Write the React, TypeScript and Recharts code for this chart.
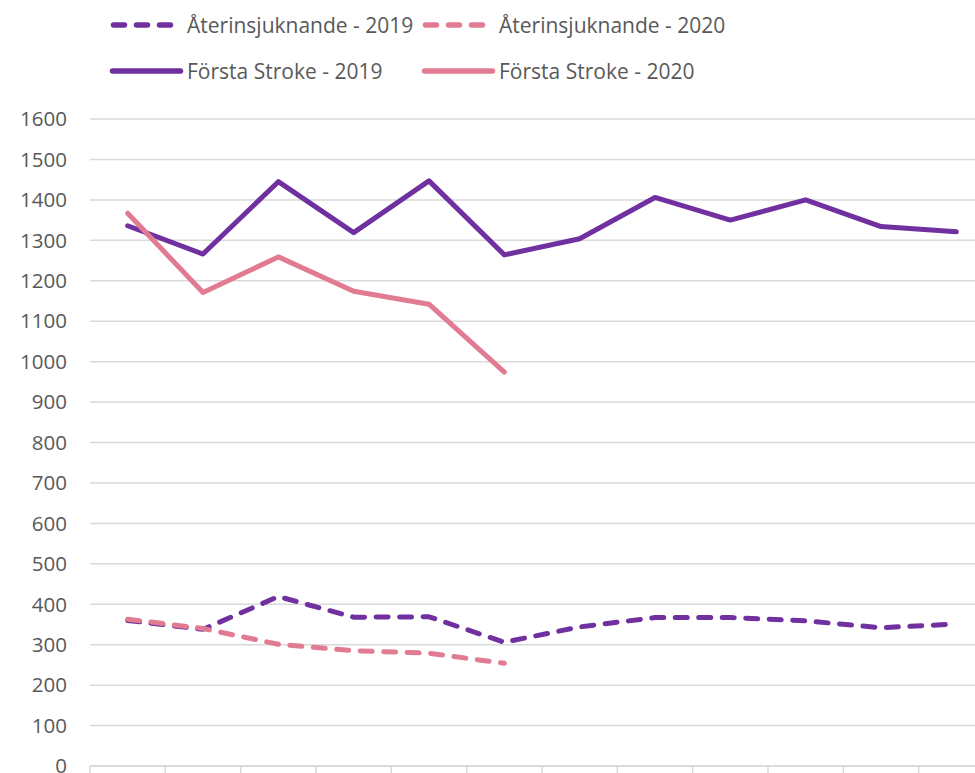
import React from 'react';
import { LineChart, Line, XAxis, YAxis, CartesianGrid, Legend } from 'recharts';

const months = ['Jan', 'Feb', 'Mar', 'Apr', 'Maj', 'Jun', 'Jul', 'Aug', 'Sep', 'Okt', 'Nov', 'Dec'];
const recurrent2019 = [360, 338, 419, 368, 369, 306, 344, 367, 367, 359, 342, 351];
const recurrent2020 = [363, 340, 301, 285, 279, 254];
const firstStroke2019 = [1336, 1266, 1445, 1319, 1447, 1264, 1304, 1406, 1350, 1400, 1334, 1321];
const firstStroke2020 = [1367, 1171, 1259, 1174, 1142, 974];
const yTicks = [0, 100, 200, 300, 400, 500, 600, 700, 800, 900, 1000, 1100, 1200, 1300, 1400, 1500, 1600];
const xBoundaries = [0, 1, 2, 3, 4, 5, 6, 7, 8, 9, 10, 11, 12];

const PURPLE = '#7030A0';
const PINK = '#E07B91';
const TEXT = '#595959';
const GRID = '#D9D9D9';
const FONT = '"Open Sans", "Liberation Sans", sans-serif';

const data = months.map((m, i) => ({
  x: i + 0.5,
  month: m,
  r19: recurrent2019[i] ?? null,
  r20: recurrent2020[i] ?? null,
  f19: firstStroke2019[i] ?? null,
  f20: firstStroke2020[i] ?? null,
}));

const series = [
  { key: 'r19', name: 'Återinsjuknande - 2019', color: PURPLE, dashed: true },
  { key: 'r20', name: 'Återinsjuknande - 2020', color: PINK, dashed: true },
  { key: 'f19', name: 'Första Stroke - 2019', color: PURPLE, dashed: false },
  { key: 'f20', name: 'Första Stroke - 2020', color: PINK, dashed: false },
];

const DASH = '12 11.5';
const LEGEND_DASH = '11 12';

const LegendContent = () => (
  <svg width={975} height={100} style={{ display: 'block' }}>
    {series.map((s, i) => {
      const col = i % 2;
      const row = Math.floor(i / 2);
      const x0 = 110 + col * 312;
      const y = 25 + row * 46;
      return (
        <g key={s.key}>
          {s.dashed ? (
            <line x1={x0 + 3.5} x2={x0 + 62} y1={y} y2={y} stroke={s.color} strokeWidth={5.5}
              strokeLinecap="round" strokeDasharray={LEGEND_DASH} />
          ) : (
            <line x1={x0 + 2.5} x2={x0 + 70.5} y1={y} y2={y} stroke={s.color} strokeWidth={5.5}
              strokeLinecap="round" />
          )}
          <text x={x0 + 77} y={y} dy="0.36em" fill={TEXT} fontSize={21} fontFamily={FONT}>{s.name}</text>
        </g>
      );
    })}
  </svg>
);

export default function App() {
  return (
    <div style={{ position: 'fixed', top: 0, left: 0, width: 975, height: 773, overflow: 'hidden', background: '#fff' }}>
      <LineChart width={1004} height={800} data={data} margin={{ top: 119, right: 10, bottom: 4, left: 0 }}>
        <CartesianGrid vertical={false} stroke={GRID} strokeWidth={1.5} />
        <XAxis type="number" dataKey="x" domain={[0, 12]} ticks={xBoundaries} interval={0}
          height={30} stroke={GRID} strokeWidth={1.5} tickSize={10}
          tickFormatter={() => ''} />
        <YAxis type="number" domain={[0, 1600]} ticks={yTicks} interval={0} width={90}
          axisLine={false} tickLine={false} tickSize={0} tickMargin={23}
          tick={{ fill: TEXT, fontSize: 20.5, fontFamily: FONT }} />
        <Legend layout="horizontal" verticalAlign="middle" align="center"
          wrapperStyle={{ top: 0, left: 0, width: 975, height: 100 }}
          content={() => <LegendContent />} />
        {series.map((s) => (
          <Line key={s.key} type="linear" dataKey={s.key} name={s.name} stroke={s.color}
            strokeWidth={5} strokeLinecap="round" strokeLinejoin="round"
            strokeDasharray={s.dashed ? DASH : undefined}
            dot={false} activeDot={false} isAnimationActive={false} connectNulls={false} />
        ))}
      </LineChart>
    </div>
  );
}
